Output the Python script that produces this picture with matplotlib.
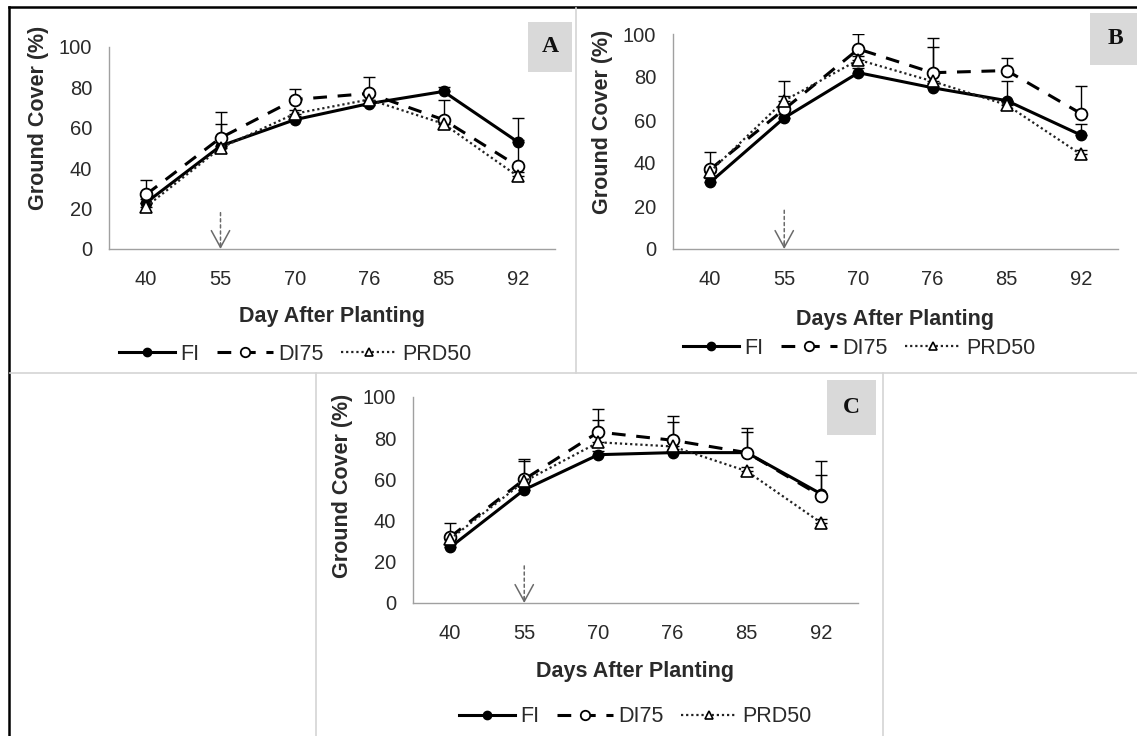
import matplotlib
matplotlib.use("Agg")
import matplotlib.pyplot as plt
from matplotlib.patches import Rectangle
from matplotlib.lines import Line2D

plt.rcParams['font.family'] = ['Liberation Sans', 'DejaVu Sans']

# ---------------- data ----------------
days = ["40", "55", "70", "76", "85", "92"]
series_names = ["FI", "DI75", "PRD50"]

# Panel A
A_FI = [23, 51, 64, 72, 78, 53]
A_DI75 = [27, 55, 74, 77, 64, 41]
A_PRD50 = [21, 50, 67, 74, 62, 36]
A_FI_err = [2, 2, 2, 2, 2, 12]
A_DI75_err = [7, 13, 5, 8, 10, 13]
A_PRD50_err = [2, 12, 2, 2, 2, 2]

# Panel B
B_FI = [31, 61, 82, 75, 69, 53]
B_DI75 = [37, 65, 93, 82, 83, 63]
B_PRD50 = [36, 69, 88, 78, 67, 44]
B_FI_err = [2, 2, 2, 2, 9, 5]
B_DI75_err = [8, 6, 7, 16, 6, 13]
B_PRD50_err = [2, 9, 2, 16, 2, 2]

# Panel C
C_FI = [27, 55, 72, 73, 73, 53]
C_DI75 = [32, 60, 83, 79, 73, 52]
C_PRD50 = [31, 59, 78, 76, 64, 39]
C_FI_err = [2, 2, 2, 2, 10, 9]
C_DI75_err = [7, 10, 11, 12, 12, 17]
C_PRD50_err = [2, 10, 11, 12, 2, 2]

event_day = "55"
event_arrow_top = 18

x_labels = ["Day After Planting", "Days After Planting", "Days After Planting"]
y_label = "Ground Cover (%)"
panel_letters = ["A", "B", "C"]

# ---------------- layout ----------------
W, H = 1137, 736
fig = plt.figure(figsize=(W / 100, H / 100), dpi=100)


def rect_px(l, r, top, bottom):
    return [l / W, 1 - bottom / H, (r - l) / W, (bottom - top) / H]


styles = {
    "FI": dict(color="black", lw=2.2, ls="-", marker="o", ms=7.5, mfc="black", mec="black"),
    "DI75": dict(color="black", lw=2.2, ls=(0, (4.5, 3.5)), marker="o", ms=8.5, mfc="white", mec="black", mew=1.3),
    "PRD50": dict(color="#222222", lw=1.6, ls=(0, (1, 1.3)), marker="^", ms=8, mfc="white", mec="black", mew=1.2),
}

panels = [
    dict(rect=(109, 555, 47, 249), data=[(A_FI, A_FI_err), (A_DI75, A_DI75_err), (A_PRD50, A_PRD50_err)],
         ylab_y=0.65, box=(528, 572, 22, 72), legend=(295, 354)),
    dict(rect=(673, 1118, 34, 249), data=[(B_FI, B_FI_err), (B_DI75, B_DI75_err), (B_PRD50, B_PRD50_err)],
         ylab_y=0.59, box=(1090, 1140, 13, 65), legend=(859, 348)),
    dict(rect=(413, 858, 397, 603), data=[(C_FI, C_FI_err), (C_DI75, C_DI75_err), (C_PRD50, C_PRD50_err)],
         ylab_y=0.57, box=(827, 876, 380, 435), legend=(635, 717)),
]

# panel frames
frame_gray = "#d4d4d4"
fig.add_artist(Line2D([9 / W, 1], [1 - 7 / H, 1 - 7 / H], color="black", lw=1.8, transform=fig.transFigure))
fig.add_artist(Line2D([9 / W, 9 / W], [0, 1 - 7 / H], color="black", lw=1.8, transform=fig.transFigure))
fig.add_artist(Line2D([10 / W, 1], [1 - 373 / H, 1 - 373 / H], color=frame_gray, lw=1.2, transform=fig.transFigure))
fig.add_artist(Line2D([576 / W, 576 / W], [1 - 373 / H, 1 - 8 / H], color=frame_gray, lw=1.2, transform=fig.transFigure))
fig.add_artist(Line2D([316 / W, 316 / W], [0, 1 - 373 / H], color=frame_gray, lw=1.2, transform=fig.transFigure))
fig.add_artist(Line2D([883 / W, 883 / W], [0, 1 - 373 / H], color=frame_gray, lw=1.2, transform=fig.transFigure))

xpos = list(range(len(days)))

for i, p in enumerate(panels):
    ax = fig.add_axes(rect_px(*p["rect"]))
    handles = []
    for name, (vals, err) in zip(series_names, p["data"]):
        st = styles[name]
        ax.errorbar(xpos, vals, yerr=[[0] * len(err), err], fmt="none", ecolor="black",
                    elinewidth=1.0, capsize=4.5, capthick=1.0, zorder=2)
        h, = ax.plot(xpos, vals, color=st["color"], lw=st["lw"], ls=st["ls"], marker=st["marker"],
                     ms=st["ms"], mfc=st["mfc"], mec=st["mec"], mew=st.get("mew", 1), zorder=3, label=name)
        handles.append(h)
    ev = days.index(event_day)
    # dashed shaft
    ax.annotate("", xy=(ev, 2), xytext=(ev, event_arrow_top),
                arrowprops=dict(arrowstyle="-", color="#6a6a6a", lw=1.1, ls=(0, (2, 2)),
                                shrinkA=0, shrinkB=0), zorder=4)
    # solid open head
    ax.annotate("", xy=(ev, 0), xytext=(ev, 3),
                arrowprops=dict(arrowstyle="->,head_length=0.55,head_width=0.3", color="#6a6a6a", lw=1.1,
                                mutation_scale=22, shrinkA=0, shrinkB=0), zorder=4)
    ax.set_xlim(-0.5, len(days) - 0.5)
    ax.set_ylim(0, 100)
    ax.set_xticks(xpos)
    ax.set_xticklabels(days)
    ax.set_yticks(range(0, 101, 20))
    for s in ["top", "right"]:
        ax.spines[s].set_visible(False)
    for s in ["left", "bottom"]:
        ax.spines[s].set_color("#a0a0a0")
        ax.spines[s].set_linewidth(1.0)
    ax.tick_params(length=0, labelsize=14.5, colors="#2a2a2a")
    ax.tick_params(axis="x", pad=15)
    ax.tick_params(axis="y", pad=12)
    ax.set_xlabel(x_labels[i], fontsize=15.5, fontweight="bold", color="#2a2a2a")
    ax.xaxis.set_label_coords(0.5, -0.28)
    ax.set_ylabel(y_label, fontsize=15.5, fontweight="bold", color="#2a2a2a")
    ax.yaxis.set_label_coords(-0.135, p["ylab_y"])
    ax.patch.set_alpha(0)

    # letter box
    bl, br, bt, bb = p["box"]
    fig.add_artist(Rectangle((bl / W, 1 - bb / H), (br - bl) / W, (bb - bt) / H,
                             facecolor="#d9d9d9", edgecolor="none", transform=fig.transFigure, zorder=1))
    fig.text((bl + br) / 2 / W, 1 - (bt + bb) / 2 / H, panel_letters[i], family="Liberation Serif",
             fontweight="bold", fontsize=17, ha="center", va="center", color="#111111")

    lx, ly = p["legend"]
    fig.legend(handles=handles, labels=series_names, loc="center", bbox_to_anchor=(lx / W, 1 - ly / H),
               ncol=3, frameon=False, fontsize=15.5, handlelength=2.6, handletextpad=0.25,
               columnspacing=0.8, markerscale=0.8, labelcolor="#2a2a2a")

fig.savefig("out.png", dpi=100)
